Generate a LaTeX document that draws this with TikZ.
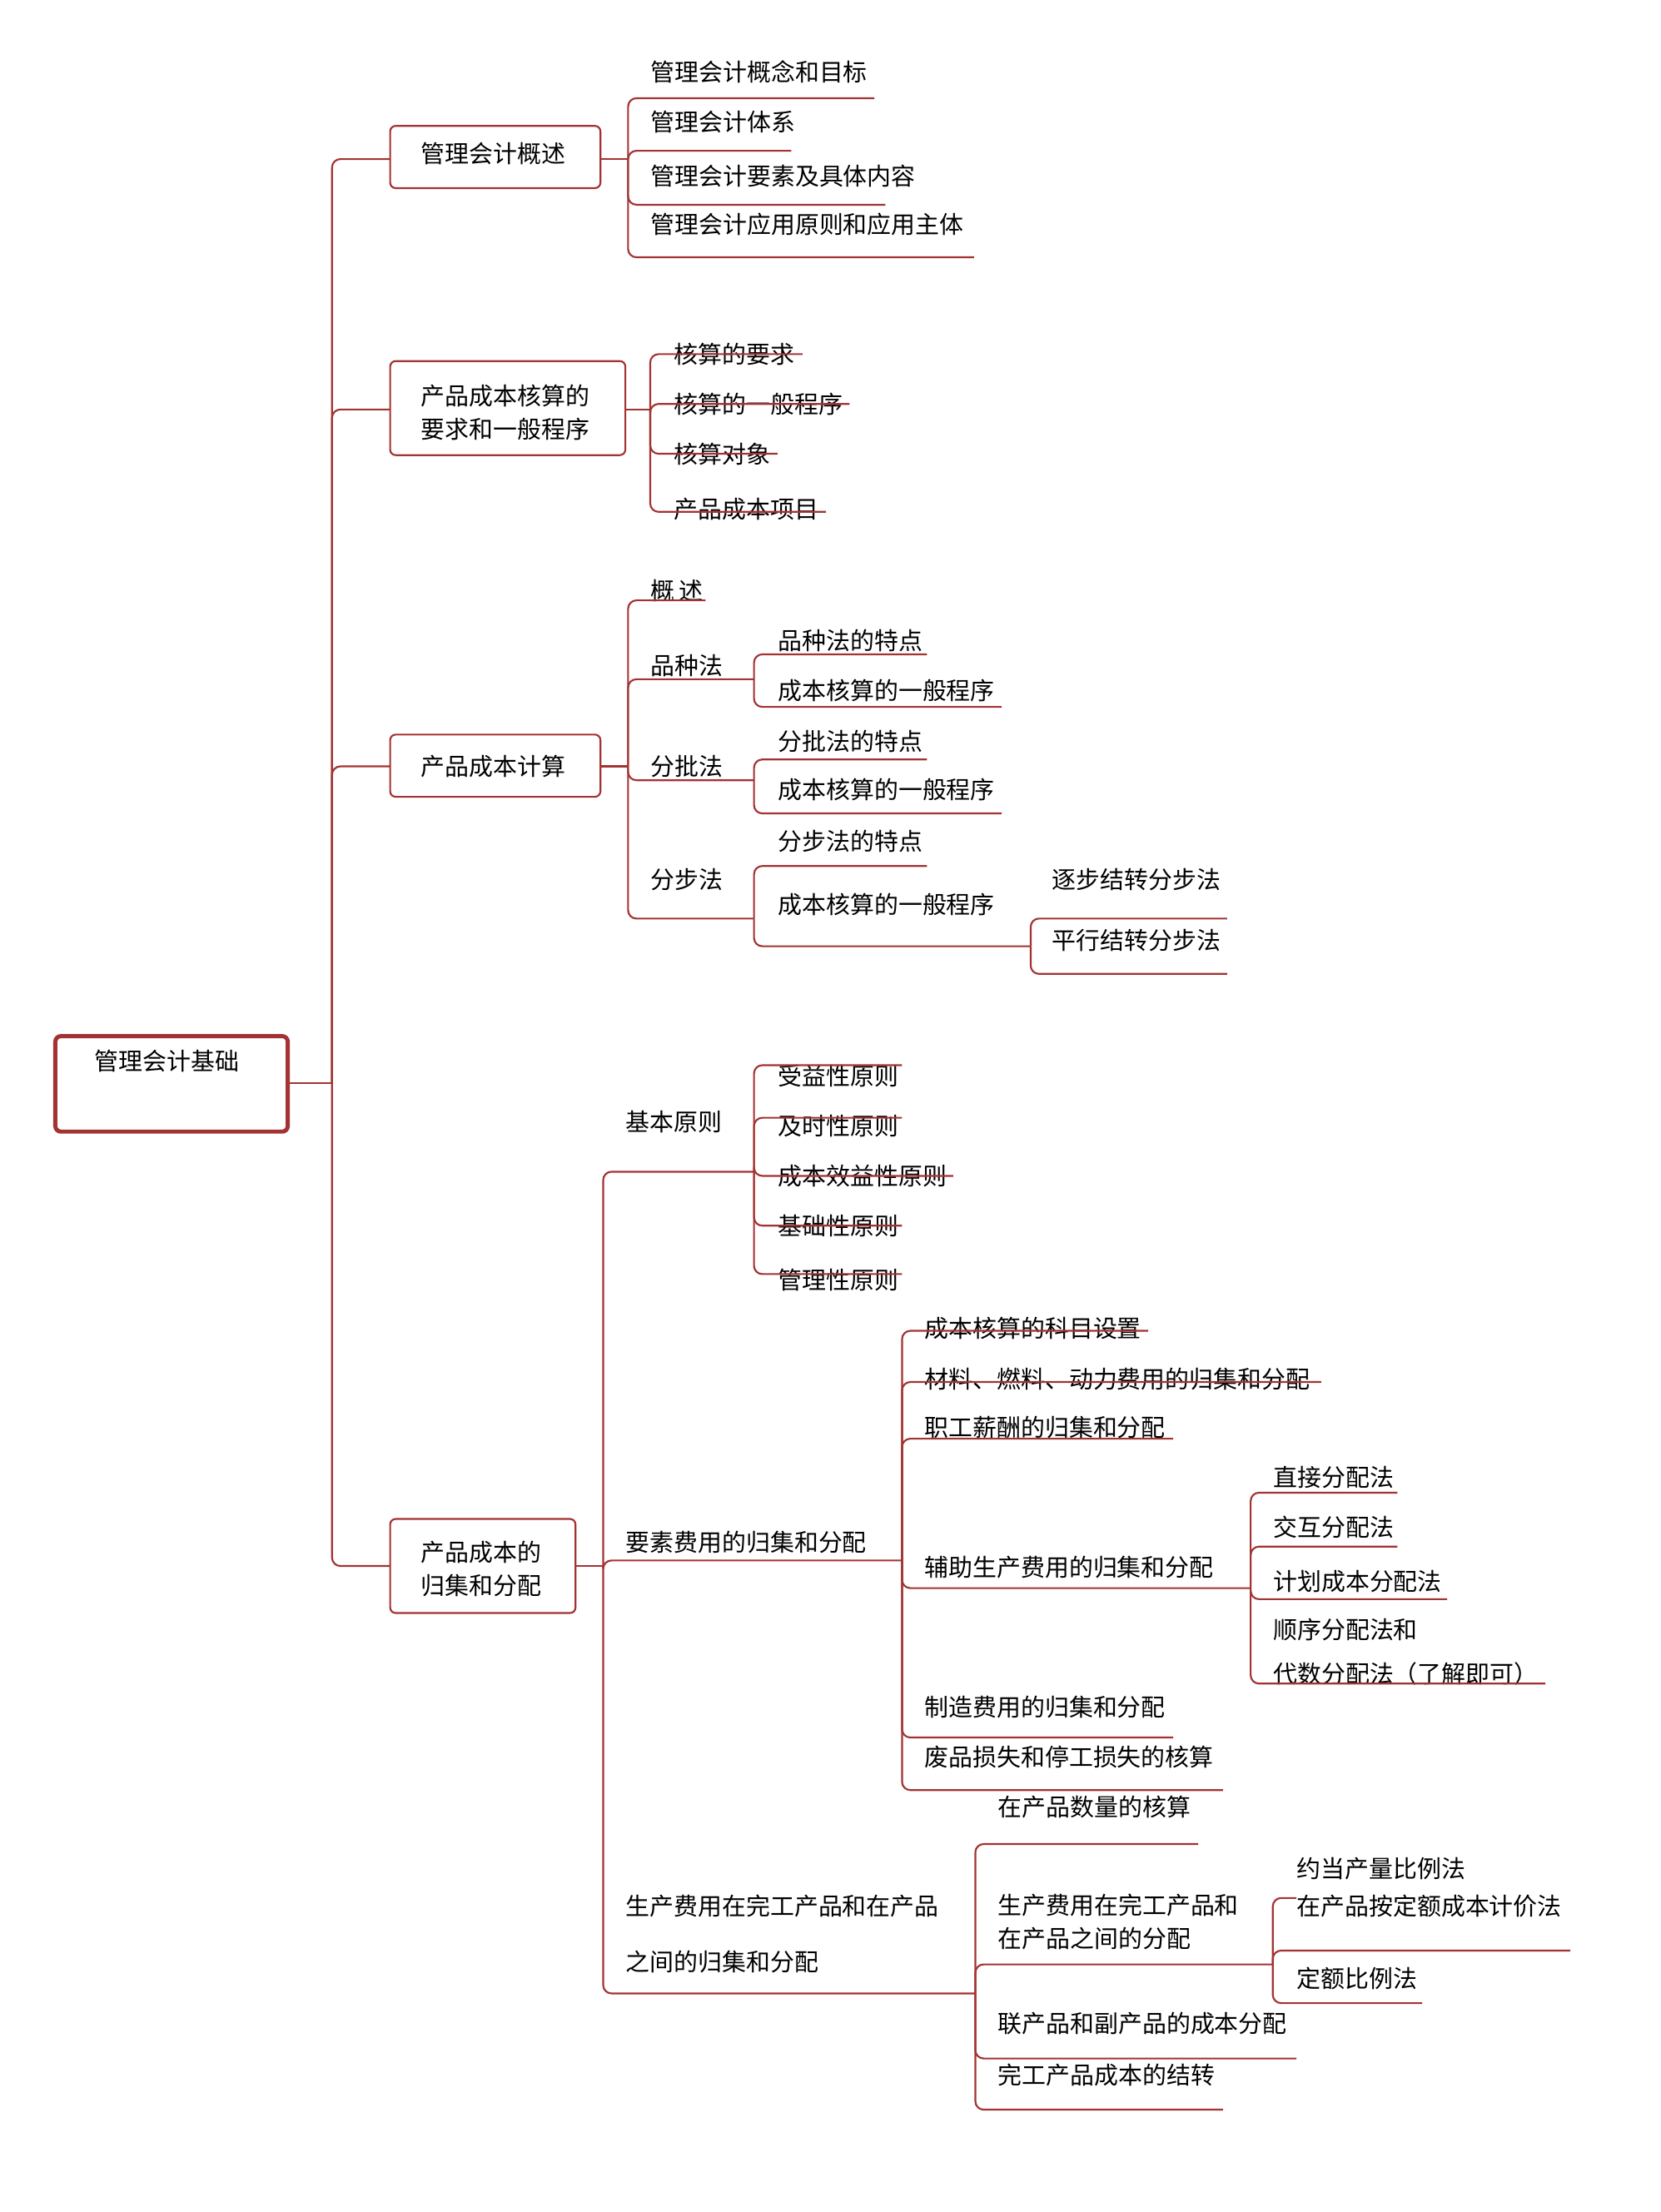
\documentclass[tikz,border=0pt]{standalone}
\usepackage{fontspec}
\setmainfont{Noto Sans CJK SC}
\begin{document}
\begin{tikzpicture}[x=0.5pt,y=-0.5pt,
  ln/.style={draw=red!55!black!80!white, line width=0.65pt, rounded corners=3pt},
  bx/.style={draw=red!55!black!80!white, line width=0.65pt, rounded corners=2pt},
  tx/.style={anchor=west, inner sep=0pt, font=\fontsize{8.7pt}{12pt}\selectfont, align=left}]
\colorlet{lc}{red!55!black!80!white}
\useasboundingbox (0,0) rectangle (1200,1599);
\fill[white] (0,0) rectangle (1200,1599);
\newcommand\lf[8]{\node[tx] (#8) at (#3,#4) {#7};\draw[ln] (#1,#2) -- (#1,#5) -- (#6,#5);}
% root
\draw[lc, line width=1.5pt, rounded corners=2pt] (40,749) rectangle (208,818);
\node[tx] (root) at (68,767) {管理会计基础};
\draw[ln] (208,783) -- (240,783);
% trunk
\draw[ln] (240,783) -- (240,115) -- (282,115);
\draw[ln] (240,783) -- (240,296) -- (282,296);
\draw[ln] (240,783) -- (240,554) -- (282,554);
\draw[ln] (240,783) -- (240,1132) -- (282,1132);
% branch 1
\draw[bx] (282,91) rectangle (434,136); \node[tx] (b1) at (304,111) {管理会计概述};
\draw[ln] (434,115) -- (454,115);
\lf{454}{115}{470}{52}{71}{632}{管理会计概念和目标}{a1}
\lf{454}{115}{470}{88}{109}{572}{管理会计体系}{a2}
\lf{454}{115}{470}{127}{148}{640}{管理会计要素及具体内容}{a3}
\lf{454}{115}{470}{162}{186}{704}{管理会计应用原则和应用主体}{a4}
% branch 2
\draw[bx] (282,261) rectangle (452,329); \node[tx] (b2) at (304,298) {产品成本核算的\\要求和一般程序};
\draw[ln] (452,296) -- (470,296);
\lf{470}{296}{487}{256}{256}{580}{核算的要求}{c1}
\lf{470}{296}{487}{292}{292}{614}{核算的一般程序}{c2}
\lf{470}{296}{487}{328}{328}{562}{核算对象}{c3}
\lf{470}{296}{487}{368}{370}{597}{产品成本项目}{c4}
% branch 3
\draw[bx] (282,531) rectangle (434,576); \node[tx] (b3) at (304,554) {产品成本计算};
\draw[ln] (434,554) -- (454,554);
\lf{454}{554}{470}{427}{434}{510}{概\,述}{d1}
\lf{454}{554}{470}{481}{491}{545}{品种法}{d2}
\lf{545}{491}{562}{463}{473}{670}{品种法的特点}{d21}
\lf{545}{491}{562}{499}{511}{724}{成本核算的一般程序}{d22}
\lf{454}{554}{470}{554}{564}{545}{分批法}{d3}
\lf{545}{564}{562}{536}{549}{670}{分批法的特点}{d31}
\lf{545}{564}{562}{571}{588}{724}{成本核算的一般程序}{d32}
\lf{454}{554}{470}{636}{664}{545}{分步法}{d4}
\lf{545}{664}{562}{608}{626}{670}{分步法的特点}{d41}
\lf{545}{664}{562}{654}{684}{745}{成本核算的一般程序}{d42}
\lf{745}{684}{760}{636}{664}{887}{逐步结转分步法}{d421}
\lf{745}{684}{760}{680}{704}{887}{平行结转分步法}{d422}
% branch 4
\draw[bx] (282,1098) rectangle (416,1166); \node[tx] (b4) at (304,1134) {产品成本的\\归集和分配};
\draw[ln] (416,1132) -- (436,1132);
\lf{436}{1132}{452}{811}{847}{545}{基本原则}{e1}
\lf{545}{847}{562}{778}{770}{652}{受益性原则}{e11}
\lf{545}{847}{562}{814}{808}{652}{及时性原则}{e12}
\lf{545}{847}{562}{850}{850}{689}{成本效益性原则}{e13}
\lf{545}{847}{562}{886}{886}{652}{基础性原则}{e14}
\lf{545}{847}{562}{925}{921}{652}{管理性原则}{e15}
\lf{436}{1132}{452}{1115}{1128}{652}{要素费用的归集和分配}{f1}
\lf{652}{1128}{668}{960}{962}{830}{成本核算的科目设置}{f11}
\lf{652}{1128}{668}{997}{999}{955}{材料、燃料、动力费用的归集和分配}{f12}
\lf{652}{1128}{668}{1032}{1040}{848}{职工薪酬的归集和分配}{f13}
\lf{652}{1128}{668}{1133}{1148}{904}{辅助生产费用的归集和分配}{f14}
\lf{904}{1148}{920}{1068}{1079}{1010}{直接分配法}{f141}
\lf{904}{1148}{920}{1104}{1118}{1010}{交互分配法}{f142}
\lf{904}{1148}{920}{1143}{1156}{1046}{计划成本分配法}{f143}
\lf{904}{1148}{920}{1194}{1217}{1117}{顺序分配法和\\[4pt]代数分配法（了解即可）}{f144}
\lf{652}{1128}{668}{1234}{1256}{848}{制造费用的归集和分配}{f15}
\lf{652}{1128}{668}{1270}{1294}{884}{废品损失和停工损失的核算}{f16}
\lf{436}{1132}{452}{1398}{1441}{705}{生产费用在完工产品和在产品\\[8pt]之间的归集和分配}{g1}
\lf{705}{1441}{721}{1306}{1333}{866}{在产品数量的核算}{g11}
\lf{705}{1441}{721}{1389}{1420}{920}{生产费用在完工产品和\\在产品之间的分配}{g12}
\node[tx] (g121) at (937,1351) {约当产量比例法};
\lf{920}{1420}{937}{1378}{1372}{937}{在产品按定额成本计价法}{g122}
\draw[ln] (920,1420) -- (920,1410) -- (1135,1410);
\lf{920}{1420}{937}{1430}{1448}{1028}{定额比例法}{g123}
\lf{705}{1441}{721}{1463}{1488}{937}{联产品和副产品的成本分配}{g13}
\lf{705}{1441}{721}{1500}{1525}{884}{完工产品成本的结转}{g14}
\end{tikzpicture}
\end{document}
